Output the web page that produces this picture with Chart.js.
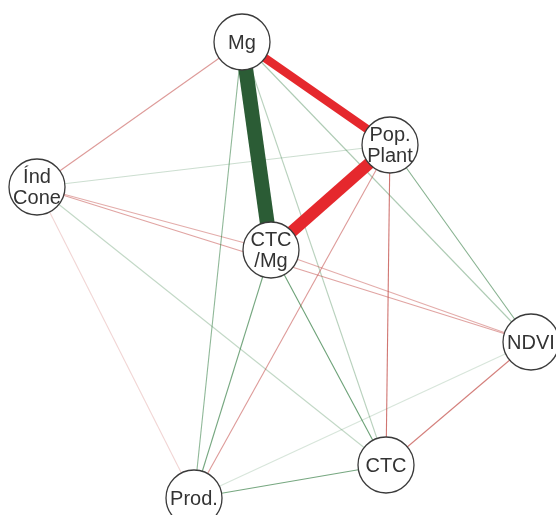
<!DOCTYPE html>
<html>
<head>
<meta charset="utf-8">
<script src="https://cdn.jsdelivr.net/npm/chart.js@4"></script>
<style>
  html, body { margin: 0; padding: 0; background: #fff; }
  #wrap { width: 556px; height: 515px; }
</style>
</head>
<body>
<div id="wrap"><canvas id="net"></canvas></div>
<script>
// nodes (layout position, in plot units)
const nodeNames = ['Mg', 'Pop.\nPlant', 'Índ\nCone', 'CTC\n/Mg', 'NDVI', 'CTC', 'Prod.'];
const nodeX = [242, 390, 37, 271, 531, 386, 194];
const nodeY = [42, 145, 187, 250, 342, 465, 498];

// edges: index into nodes, signed weight
const edgeFrom = [0, 1, 0, 1, 4, 3, 3, 6, 1, 1, 0, 0, 2, 2, 3, 0, 0, 2, 2, 2, 4];
const edgeTo   = [3, 3, 1, 5, 5, 5, 6, 5, 4, 6, 6, 2, 4, 3, 4, 5, 4, 1, 5, 6, 6];
const edgeWeight = [0.92, -0.75, -0.52, -0.28, -0.26, 0.27, 0.25, 0.25, 0.22, -0.2, 0.2, -0.2,
                    -0.18, -0.16, -0.16, 0.12, 0.14, 0.08, 0.1, -0.07, 0.06];

function edgeColor(w) {
    const a = Math.min(1, Math.abs(w) * 2.4 + 0.05);
    if (w > 0) {
        return Math.abs(w) > 0.4 ? '#2b5c35' : `rgba(45,120,60,${a})`;
    }
    return Math.abs(w) > 0.4 ? '#e5282d' : `rgba(190,65,60,${a})`;
}

function edgeWidth(w) {
    return Math.abs(w) > 0.4 ? Math.abs(w) * 16 : 1.1;
}

const datasets = [];

datasets.push({
    label: 'nodes',
    data: nodeX.map((x, i) => ({ x: x, y: nodeY[i] })),
    pointRadius: 28,
    pointBackgroundColor: '#ffffff',
    pointBorderColor: '#3a3a3a',
    pointBorderWidth: 1.3,
    showLine: false,
    order: 0
});

// sort so the heavy edges are painted last (on top of light ones)
const edgeIdx = edgeWeight.map((w, i) => i).sort((a, b) => Math.abs(edgeWeight[b]) - Math.abs(edgeWeight[a]));
edgeIdx.forEach(function (i, k) {
    const f = edgeFrom[i], t = edgeTo[i];
    datasets.push({
        label: 'e' + i,
        data: [{ x: nodeX[f], y: nodeY[f] }, { x: nodeX[t], y: nodeY[t] }],
        showLine: true,
        borderColor: edgeColor(edgeWeight[i]),
        borderWidth: edgeWidth(edgeWeight[i]),
        pointRadius: 0,
        borderCapStyle: 'butt',
        order: 1 + k
    });
});

const nodeLabels = {
    id: 'nodeLabels',
    afterDatasetsDraw(chart) {
        const ctx = chart.ctx;
        const xs = chart.scales.x, ys = chart.scales.y;
        ctx.save();
        ctx.font = '20px "Liberation Sans", Arial, sans-serif';
        ctx.fillStyle = '#333333';
        ctx.textAlign = 'center';
        ctx.textBaseline = 'middle';
        nodeNames.forEach(function (name, i) {
            const lines = name.split('\n');
            const px = xs.getPixelForValue(nodeX[i]);
            const py = ys.getPixelForValue(nodeY[i]);
            const lh = 21;
            lines.forEach(function (ln, j) {
                ctx.fillText(ln, px, py + (j - (lines.length - 1) / 2) * lh + 1);
            });
        });
        ctx.restore();
    }
};

new Chart(document.getElementById('net'), {
    type: 'scatter',
    data: { datasets: datasets },
    options: {
        responsive: true,
        maintainAspectRatio: false,
        animation: false,
        clip: false,
        layout: { padding: 0, autoPadding: false },
        plugins: { legend: { display: false }, tooltip: { enabled: false } },
        scales: {
            x: { type: 'linear', min: 0, max: 556, display: false },
            y: { type: 'linear', min: 0, max: 515, reverse: true, display: false }
        }
    },
    plugins: [nodeLabels]
});
</script>
</body>
</html>
